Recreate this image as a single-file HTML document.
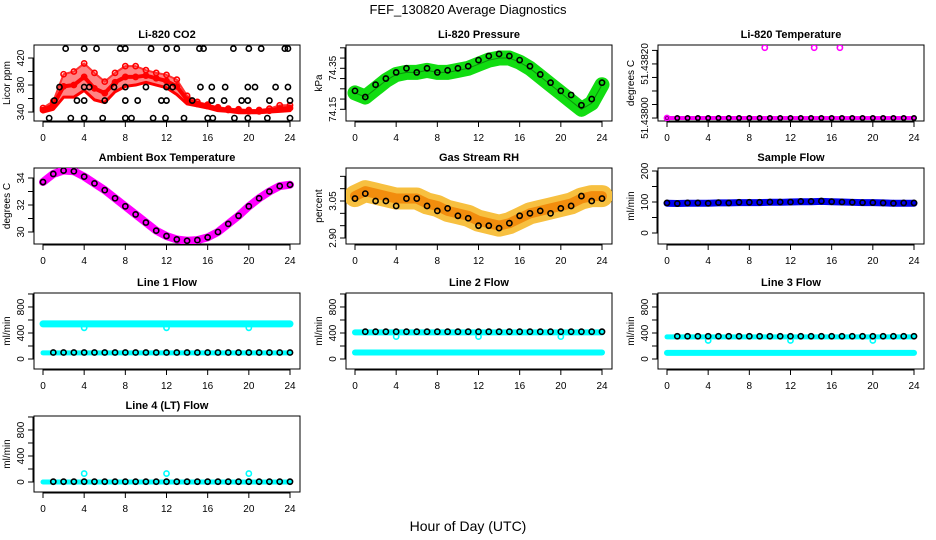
<!DOCTYPE html>
<html><head><meta charset="utf-8">
<style>
html,body{margin:0;padding:0;background:#fff;}
svg{display:block;font-family:"Liberation Sans",sans-serif;}
</style></head>
<body>
<svg id="chart" width="936" height="540" viewBox="0 0 936 540">
<text x="468" y="14" text-anchor="middle" font-size="13">FEF_130820  Average Diagnostics</text>
<text x="468" y="531" text-anchor="middle" font-size="14">Hour of Day (UTC)</text>
</svg>
<script>
// ---- data ----
const xTicks = [0,4,8,12,16,20,24];
const hours = [0,1,2,3,4,5,6,7,8,9,10,11,12,13,14,15,16,17,18,19,20,21,22,23,24];
const co2Mid = [343,350,378,380,392,375,368,384,392,392,394,390,386,378,358,352,349,345,343,342,341,341,342,345,346];
const co2Hi  = [346,356,396,400,412,398,385,398,408,408,402,398,395,388,364,355,351,347,345,344,343,343,345,350,350];
const co2Lo  = [340,344,362,362,372,358,354,370,378,380,384,380,376,366,352,349,346,342,341,339,339,339,340,341,342];
const co2BlackH = [2.2,4,5.2,7.5,8,10.5,12,13,15.2,15.6,18.5,20,21.2,23.5,23.8, 1.6,4,4.5,6.9,8,10,12,12.6,15.3,16.4,17.7,19.9,20.6,22.6,23.8, 1.1,3.3,4,6,8,9.2,11.5,12,14.5,16.4,17.6,19.3,19.9,22,24, 0.6,2.7,4,5.8,8,8.6,10.7,11.9,13.7,16,16.5,18.6,19.9,21.8,24];
const co2BlackV = [434,434,434,434,434,434,434,434,434,434,434,434,434,434,434, 377,377,377,377,377,377,377,377,377,377,377,377,377,377,377, 357,357,357,357,357,357,357,357,357,357,357,357,357,357,357, 331,331,331,331,331,331,331,331,331,331,331,331,331,331,331];
const pressGreen = [74.23,74.21,74.25,74.29,74.32,74.33,74.33,74.34,74.33,74.33,74.34,74.35,74.37,74.39,74.40,74.40,74.38,74.35,74.31,74.27,74.23,74.19,74.15,74.18,74.27];
const pressBlack = [74.24,74.21,74.27,74.30,74.33,74.35,74.33,74.35,74.33,74.34,74.35,74.36,74.39,74.41,74.42,74.41,74.39,74.36,74.32,74.28,74.24,74.22,74.17,74.20,74.28];
const tempHours = [0,9.5,14.3,16.8];
const tempOut = [51.43800,51.43826,51.43826,51.43826];
const tempBase = 51.43800;
const ambient = [33.7,34.3,34.55,34.5,34.1,33.6,33.1,32.5,31.9,31.3,30.7,30.1,29.7,29.45,29.35,29.4,29.6,30.0,30.6,31.2,31.9,32.5,33.0,33.4,33.5];
const rhBand = [3.07,3.09,3.08,3.07,3.06,3.06,3.06,3.04,3.03,3.01,3.00,2.99,2.97,2.96,2.95,2.96,2.98,3.00,3.01,3.02,3.03,3.04,3.06,3.07,3.07];
const rhBlack = [3.06,3.08,3.05,3.05,3.03,3.06,3.06,3.03,3.01,3.02,2.99,2.98,2.95,2.95,2.94,2.96,2.99,3.00,3.01,3.00,3.02,3.03,3.07,3.05,3.06];
const sampleBlue = [96,95,96,96,96,97,97,98,98,98,99,99,100,101,101,102,101,100,99,98,98,97,96,96,96];
const sampleBlack = [97,95,97,97,96,98,97,99,99,99,100,100,100,102,102,103,101,100,99,98,98,97,96,97,97];
const outlierHours = [4,12,20];
const l1CyanHi = 540, l1CyanLo = 95, l1Black = 100, l1Out = 480;
const l2CyanHi = 410, l2CyanLo = 100, l2Black = 420, l2Out = 345;
const l3CyanHi = 340, l3CyanLo = 95, l3Black = 350, l3Out = 285;
const l4Cyan = 0, l4Black = 5, l4Out = 130;

// ---- layout ----
const NS = "http://www.w3.org/2000/svg";
const svg = document.getElementById('chart');
const colX0 = [43,355,667], colLeft=[34,346,658], colW=266;
const rowTop = [45,168,293,416], boxH = 76;
function mk(tag, attrs, parent){const e=document.createElementNS(NS,tag);for(const k in attrs)e.setAttribute(k,attrs[k]);(parent||svg).appendChild(e);return e;}

function panel(col,row,title,ylab,ymin,ymax,yTicks,yLabels,name){
  const g=mk('g',{});
  
  
  const L=colLeft[col], T=rowTop[row], B=T+boxH;
  const xs=h=>colX0[col]+h*(247/24);
  const ys=v=>B-(v-ymin)/(ymax-ymin)*boxH;
  const t=mk('text',{x:L+colW/2,y:T-7,'text-anchor':'middle','font-size':11,'font-weight':'bold'},g);t.textContent=title;
  
  
  const box=mk('rect',{x:L,y:T,width:colW,height:boxH,fill:'none',stroke:'#000','stroke-width':1},g);
  
  
  const xa=mk('g',{},g);
  
  
  mk('line',{x1:xs(0),x2:xs(24),y1:B+1,y2:B+1,stroke:'#000'},xa);
  xTicks.forEach(v=>{mk('line',{x1:xs(v),x2:xs(v),y1:B,y2:B+6,stroke:'#000'},xa);
    const tx=mk('text',{x:xs(v),y:B+20,'text-anchor':'middle','font-size':10},xa);tx.textContent=v;});
  const ya=mk('g',{},g);
  
  
  mk('line',{x1:L-1,x2:L-1,y1:ys(yTicks[0]),y2:ys(yTicks[yTicks.length-1]),stroke:'#000'},ya);
  yTicks.forEach(v=>mk('line',{x1:L-6,x2:L,y1:ys(v),y2:ys(v),stroke:'#000'},ya));
  yLabels.forEach(v=>{const y=ys(v);const tx=mk('text',{x:L-10,y:y,'text-anchor':'middle','font-size':10,transform:`rotate(-90 ${L-10} ${y})`},ya);tx.textContent=(typeof v==='number'&&ymax-ymin<1?v.toFixed(ymax-ymin<0.01?5:2):v);});
  const yl=mk('text',{x:L-24,y:T+boxH/2,'text-anchor':'middle','font-size':10,transform:`rotate(-90 ${L-24} ${T+boxH/2})`},g);yl.textContent=ylab;
  
  
  const clip='clip'+col+row;
  const cp=mk('clipPath',{id:clip},g);mk('rect',{x:L,y:T,width:colW,height:boxH},cp);
  const marks=mk('g',{'clip-path':`url(#${clip})`},g);
  return {xs,ys,g:marks};
}
function band(p,hs,vals,color,w,name,op){
  const pl=mk('polyline',{points:hs.map((h,i)=>p.xs(h)+','+p.ys(vals[i])).join(' '),fill:'none',stroke:color,'stroke-width':w,'stroke-linejoin':'round','stroke-linecap':'round','stroke-opacity':op||1},p.g);
  
  
}
function pts(p,hs,vals,color,name,r){
  const g=mk('g',{},p.g);
  
  
  hs.forEach((h,i)=>mk('circle',{cx:p.xs(h),cy:p.ys(vals[i]),r:r||2.6,fill:'none',stroke:color,'stroke-width':1.6},g));
}
function flat(v){return hours.map(()=>v);}

// Li-820 CO2
let p=panel(0,0,'Li-820 CO2','Licor ppm',326.7,439.3,[340,360,380,400,420],[340,380,420],'co2');
const poly=mk('polygon',{points:hours.map((h,i)=>p.xs(h)+','+p.ys(co2Hi[i])).concat(hours.slice().reverse().map((h,j)=>p.xs(h)+','+p.ys(co2Lo[24-j]))).join(' '),fill:'#f33',stroke:'#f33','stroke-width':2,'fill-opacity':0.6,'stroke-linejoin':'round'},p.g);


band(p,hours,co2Mid,'#f00',4,'co2-red-core');
band(p,hours,co2Lo,'#f00',3,'co2-red-lower');
pts(p,hours,co2Hi,'#f00','co2-red-upper');pts(p,hours,co2Mid,'#f00','co2-red-mid');
pts(p,co2BlackH,co2BlackV,'#000','co2-black-points');

// Pressure
p=panel(1,0,'Li-820 Pressure','kPa',74.093,74.4637,[74.15,74.20,74.25,74.30,74.35,74.40,74.45],[74.15,74.35],'pressure');
band(p,hours,pressGreen,'#11dd11',15,'pressure-green-band');
band(p,hours,pressGreen,'#0a900a',1,'pressure-green-core');
pts(p,hours,pressBlack,'#000','pressure-black-points');

// Temperature
p=panel(2,0,'Li-820 Temperature','degrees C',51.437989,51.43827,[51.43800,51.43805,51.43810,51.43815,51.43820,51.43825],[51.43800,51.43820],'li820-temp');
band(p,hours,flat(tempBase),'#ff00ff',4,'temp-magenta-band');
pts(p,hours,flat(tempBase),'#000','temp-black-points',2.2);
pts(p,tempHours,tempOut,'#ff00ff','temp-magenta-outliers');

// Ambient
p=panel(0,1,'Ambient Box Temperature','degrees C',29.11,34.74,[30,31,32,33,34],[30,32,34],'ambient');
band(p,hours,ambient,'#ff00ff',8,'ambient-magenta-band');
pts(p,hours,ambient,'#000','ambient-black-points');

// RH
p=panel(1,1,'Gas Stream RH','percent',2.8757,3.1838,[2.90,2.95,3.00,3.05,3.10,3.15],[2.90,3.05],'rh');
band(p,hours,rhBand,'#f7c040',22,'rh-orange-band');
band(p,hours,rhBand,'#f08000',10,'rh-red-core',0.8);
pts(p,hours,rhBlack,'#000','rh-black-points');

// Sample flow
p=panel(2,1,'Sample Flow','ml/min',-35.5,209.7,[0,50,100,150,200],[0,100,200],'sample-flow');
band(p,hours,sampleBlue,'#0000ee',7,'sample-blue-band');
pts(p,hours,sampleBlack,'#000','sample-black-points');

const fT=[0,200,400,600,800,1000], fL=[0,400,800];
// Line 1
p=panel(0,2,'Line 1 Flow','ml/min',-153.8,1015,fT,fL,'line1');
band(p,hours,flat(l1CyanHi),'#00ffff',7,'line1-cyan-high');
band(p,hours,flat(l1CyanLo),'#00ffff',5,'line1-cyan-low');
pts(p,outlierHours,outlierHours.map(()=>l1Out),'#00ffff','line1-cyan-outliers');
pts(p,hours.slice(1),hours.slice(1).map(()=>l1Black),'#000','line1-black-points');
// Line 2
p=panel(1,2,'Line 2 Flow','ml/min',-153.8,1015,fT,fL,'line2');
band(p,hours,flat(l2CyanHi),'#00ffff',6,'line2-cyan-high');
band(p,hours,flat(l2CyanLo),'#00ffff',6,'line2-cyan-low');
pts(p,outlierHours,outlierHours.map(()=>l2Out),'#00ffff','line2-cyan-outliers');
pts(p,hours.slice(1),hours.slice(1).map(()=>l2Black),'#000','line2-black-points');
// Line 3
p=panel(2,2,'Line 3 Flow','ml/min',-153.8,1015,fT,fL,'line3');
band(p,hours,flat(l3CyanHi),'#00ffff',5,'line3-cyan-high');
band(p,hours,flat(l3CyanLo),'#00ffff',6,'line3-cyan-low');
pts(p,outlierHours,outlierHours.map(()=>l3Out),'#00ffff','line3-cyan-outliers');
pts(p,hours.slice(1),hours.slice(1).map(()=>l3Black),'#000','line3-black-points');
// Line 4
p=panel(0,3,'Line 4 (LT) Flow','ml/min',-153.8,1015,fT,fL,'line4');
band(p,hours,flat(l4Cyan),'#00ffff',5,'line4-cyan-band');
pts(p,outlierHours,outlierHours.map(()=>l4Out),'#00ffff','line4-cyan-outliers');
pts(p,hours.slice(1),hours.slice(1).map(()=>l4Black),'#000','line4-black-points');
</script>
</body></html>
